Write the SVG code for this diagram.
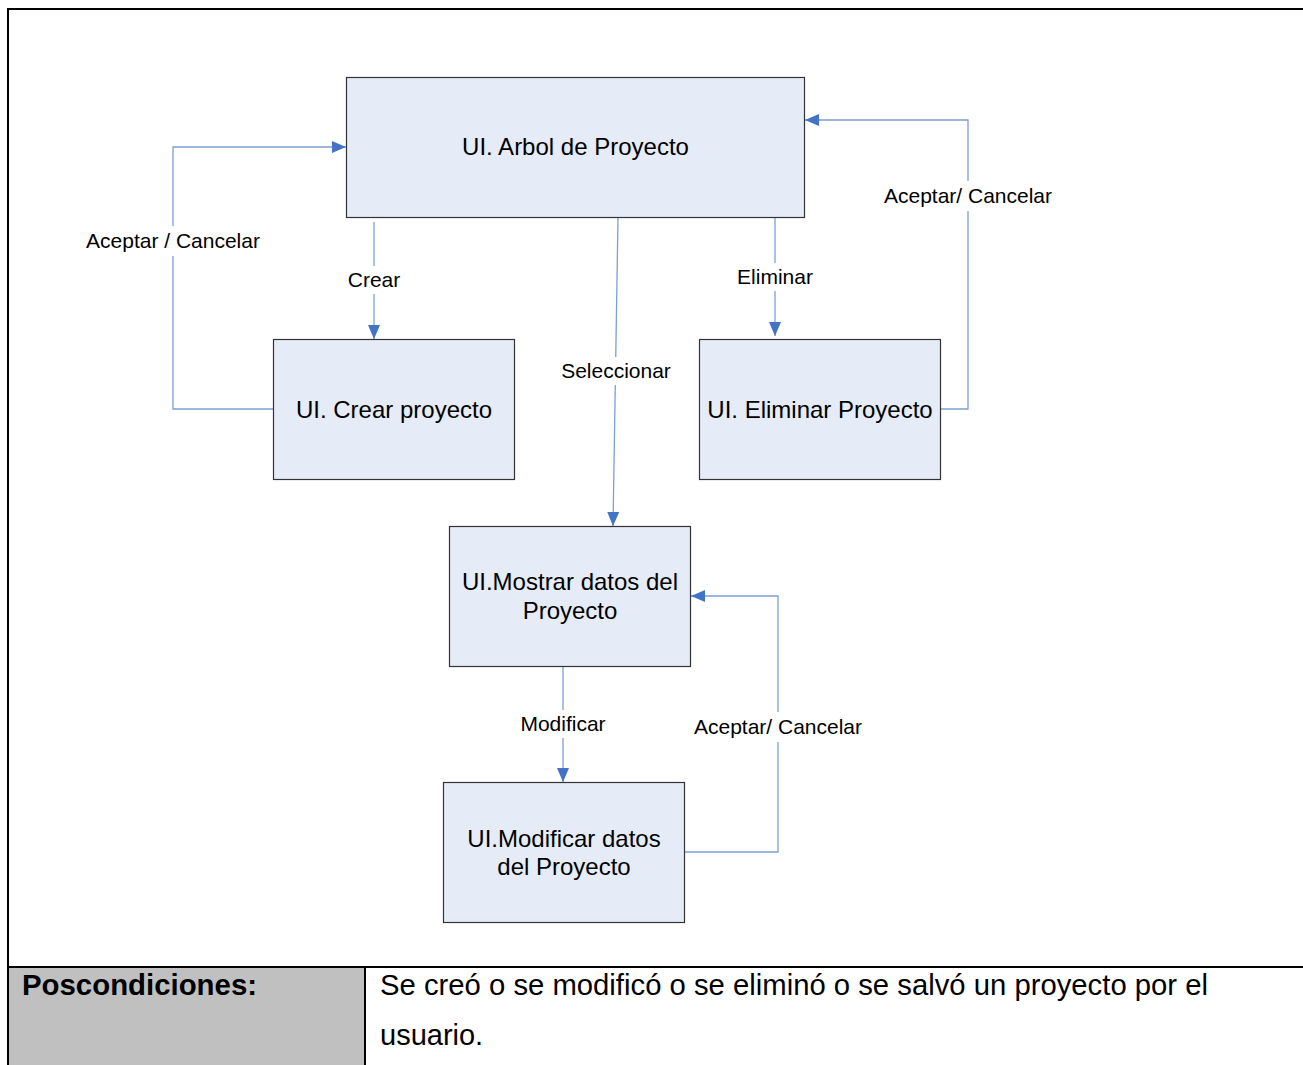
<svg xmlns="http://www.w3.org/2000/svg" width="1303" height="1065" viewBox="0 0 1303 1065">
  <style>
    .node rect { fill: #e6ecf7; stroke: #333333; stroke-width: 1.2; }
    .node text { font-family: "Liberation Sans", Arial, sans-serif; font-size: 24px; fill: #000; text-anchor: middle; }
    .edge { fill: none; stroke: #7ba0d6; stroke-width: 1.3; }
    .lbl { font-family: "Liberation Sans", Arial, sans-serif; font-size: 21px; fill: #000; text-anchor: middle; }
    .lblbg { fill: #ffffff; }
    .cell { font-family: "Liberation Sans", Arial, sans-serif; font-size: 29px; fill: #000; }
  </style>
  <defs>
    <marker id="arrow" viewBox="0 0 14 12" refX="14" refY="6" markerWidth="14" markerHeight="12" markerUnits="userSpaceOnUse" orient="auto">
      <path d="M0,0 L14,6 L0,12 z" fill="#4472c4"/>
    </marker>
  </defs>

  <rect x="0" y="0" width="1303" height="1065" fill="#ffffff"/>

  <!-- outer frame and postcondition row -->
  <g id="frame">
    <path d="M8,1065 V9 H1303" fill="none" stroke="#000" stroke-width="2"/>
    <rect x="9" y="968" width="356" height="97" fill="#c0c0c0"/>
    <path d="M8,967 H1303" stroke="#000" stroke-width="2"/>
    <path d="M365,967 V1065" stroke="#000" stroke-width="2"/>
    <text class="cell" x="22" y="995" font-weight="bold" textLength="235" lengthAdjust="spacingAndGlyphs">Poscondiciones:</text>
    <text class="cell" x="380" y="995" textLength="828" lengthAdjust="spacingAndGlyphs">Se creó o se modificó o se eliminó o se salvó un proyecto por el</text>
    <text class="cell" x="380" y="1045">usuario.</text>
  </g>

  <!-- connectors -->
  <g id="connectors">
    <path class="edge" d="M374,222 V339" marker-end="url(#arrow)"/>
    <path class="edge" d="M775,218 V336" marker-end="url(#arrow)"/>
    <path class="edge" d="M618,218 L613,526" marker-end="url(#arrow)"/>
    <path class="edge" d="M273,409 H173 V147 H346" marker-end="url(#arrow)"/>
    <path class="edge" d="M941,409 H968 V120 H805" marker-end="url(#arrow)"/>
    <path class="edge" d="M563,667 V782" marker-end="url(#arrow)"/>
    <path class="edge" d="M685,852 H778 V596 H691" marker-end="url(#arrow)"/>

    <rect class="lblbg" x="344" y="266" width="60" height="28"/>
    <text class="lbl" x="374" y="287">Crear</text>
    <rect class="lblbg" x="733" y="263" width="84" height="28"/>
    <text class="lbl" x="775" y="284">Eliminar</text>
    <rect class="lblbg" x="557" y="357" width="118" height="28"/>
    <text class="lbl" x="616" y="378">Seleccionar</text>
    <rect class="lblbg" x="82" y="226" width="182" height="30"/>
    <text class="lbl" x="173" y="248">Aceptar / Cancelar</text>
    <rect class="lblbg" x="880" y="181" width="176" height="30"/>
    <text class="lbl" x="968" y="203">Aceptar/ Cancelar</text>
    <rect class="lblbg" x="516" y="710" width="94" height="28"/>
    <text class="lbl" x="563" y="731">Modificar</text>
    <rect class="lblbg" x="690" y="712" width="176" height="30"/>
    <text class="lbl" x="778" y="734">Aceptar/ Cancelar</text>
  </g>

  <g id="ui-arbol" class="node">
    <rect x="346.5" y="77.5" width="458" height="140"/>
    <text x="575.5" y="155">UI. Arbol de Proyecto</text>
  </g>
  <g id="ui-crear" class="node">
    <rect x="273.5" y="339.5" width="241" height="140"/>
    <text x="394" y="418">UI. Crear proyecto</text>
  </g>
  <g id="ui-eliminar" class="node">
    <rect x="699.5" y="339.5" width="241" height="140"/>
    <text x="820" y="418">UI. Eliminar Proyecto</text>
  </g>
  <g id="ui-mostrar" class="node">
    <rect x="449.5" y="526.5" width="241" height="140"/>
    <text x="570" y="590">UI.Mostrar datos del</text>
    <text x="570" y="619">Proyecto</text>
  </g>
  <g id="ui-modificar" class="node">
    <rect x="443.5" y="782.5" width="241" height="140"/>
    <text x="564" y="847">UI.Modificar datos</text>
    <text x="564" y="875">del Proyecto</text>
  </g>
</svg>
